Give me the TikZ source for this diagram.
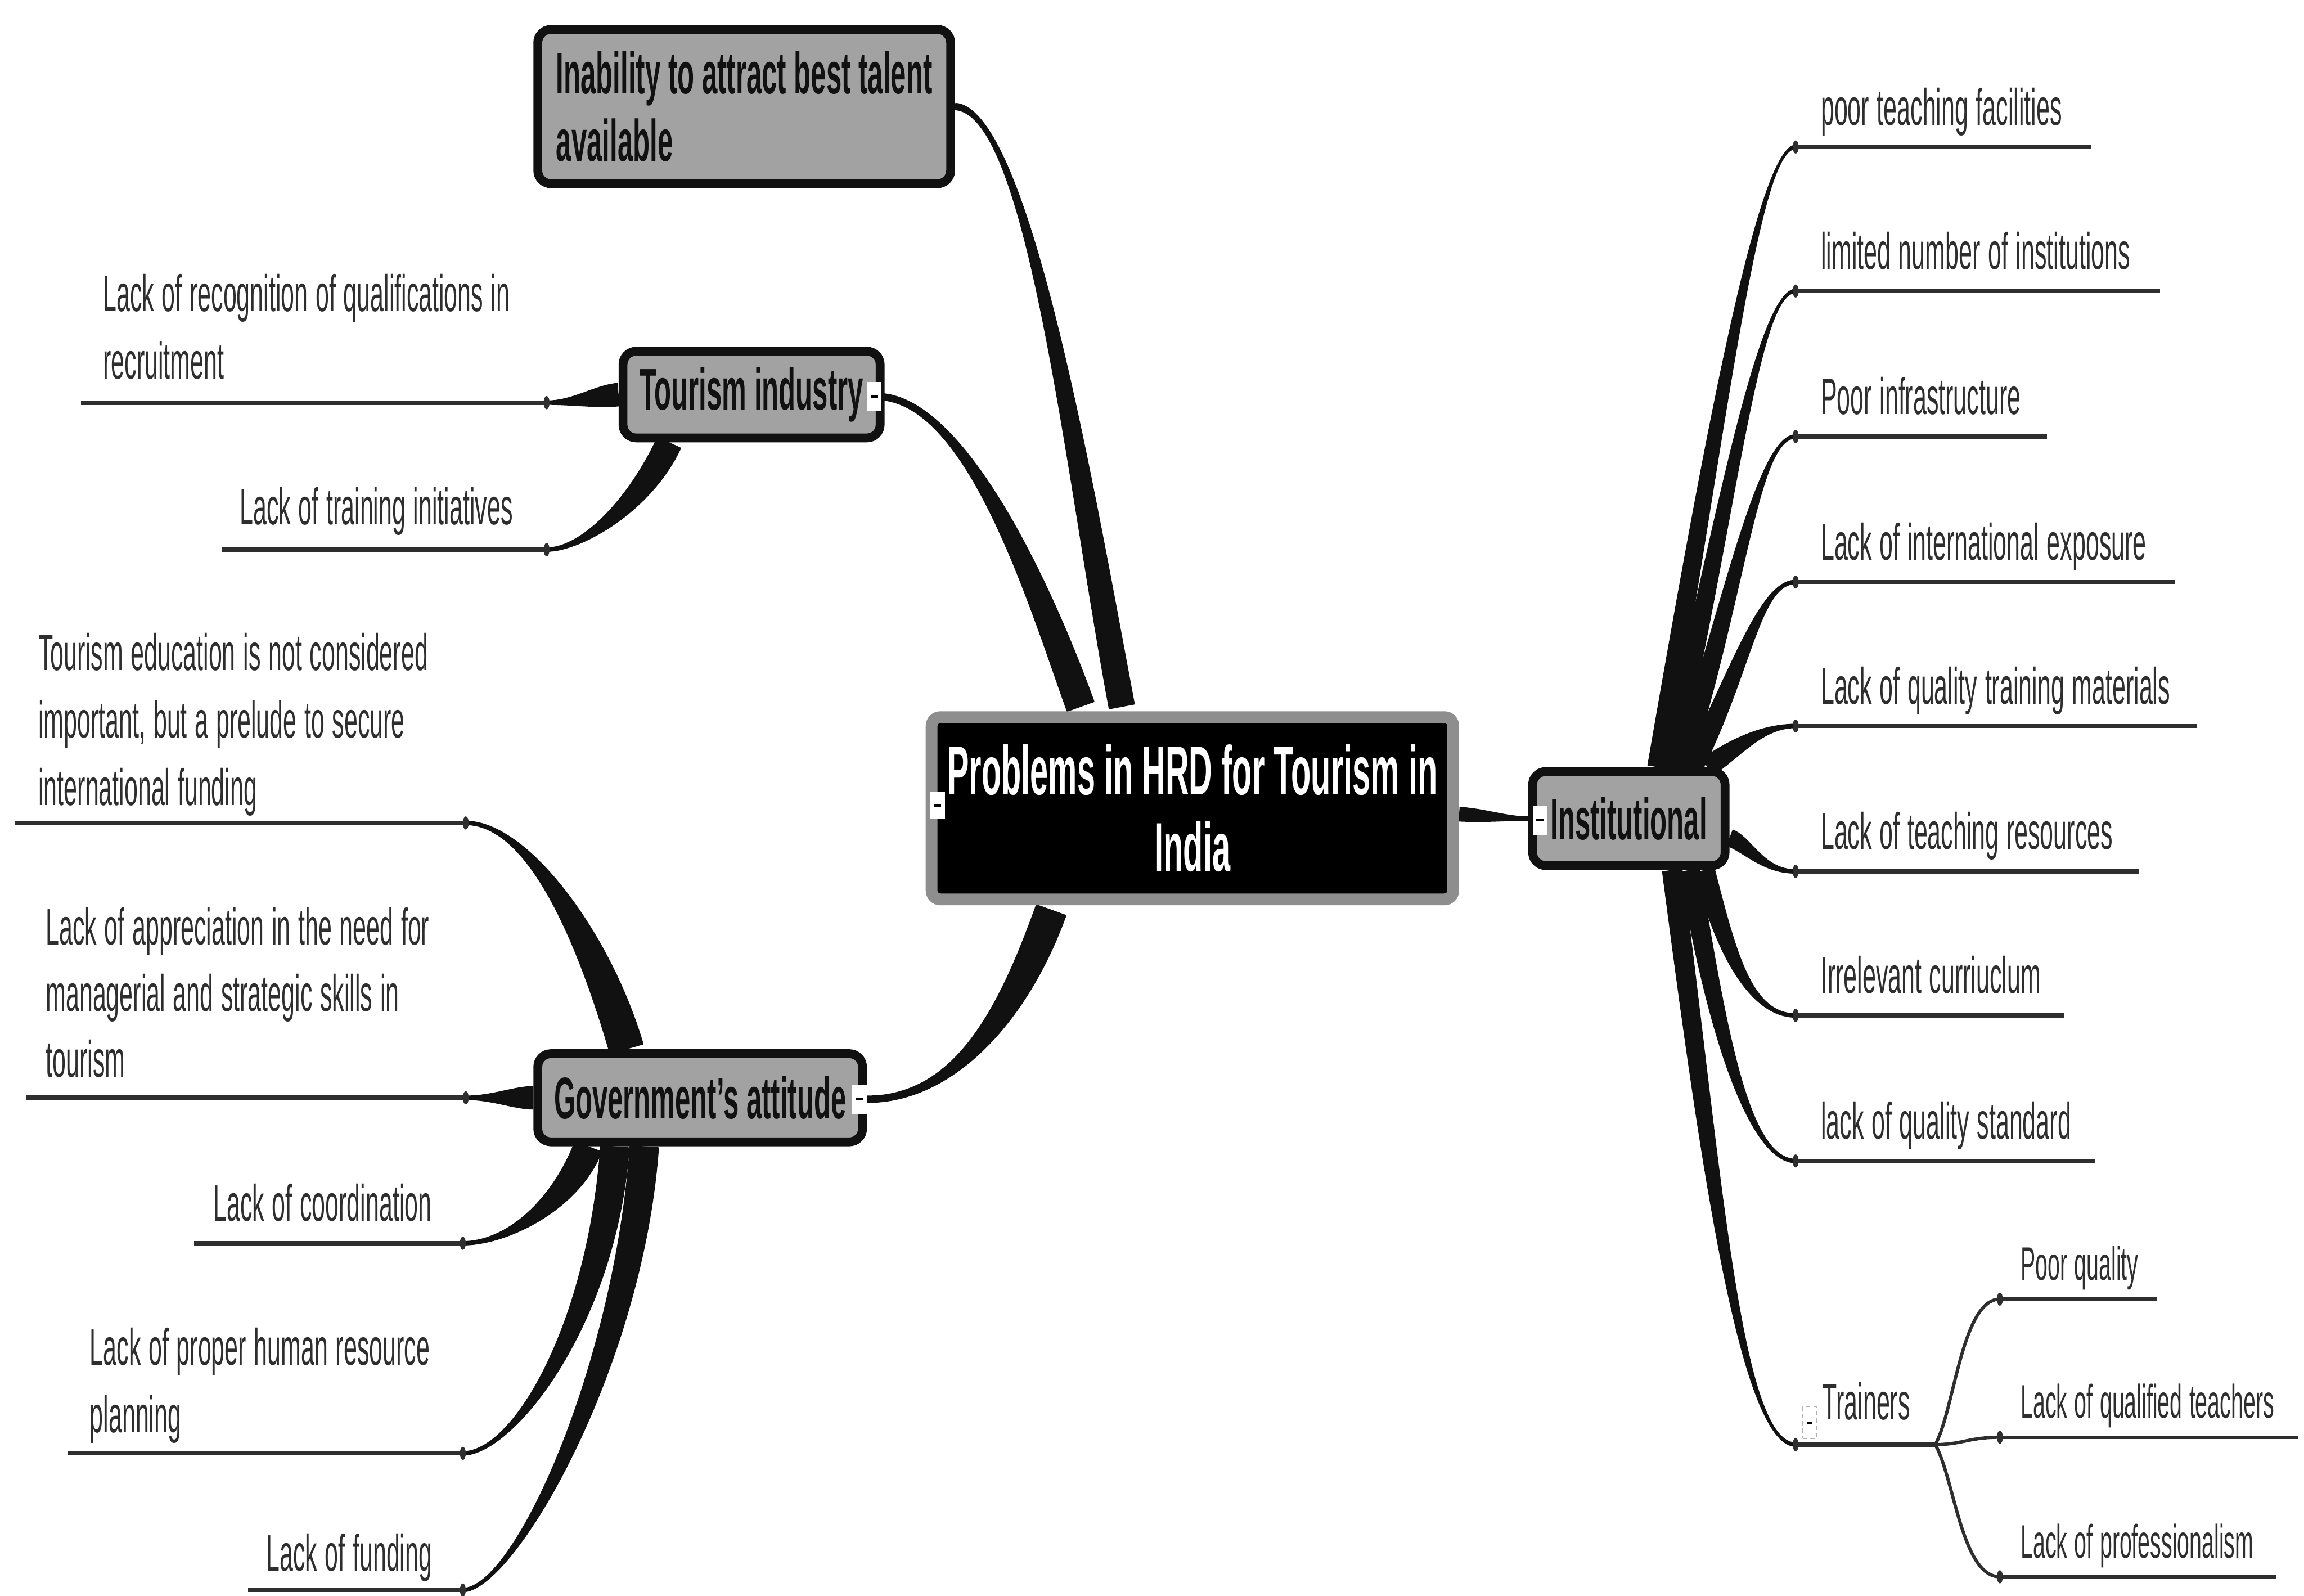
\documentclass[tikz,border=0pt]{standalone}
\usepackage{fontspec}
\setmainfont{Liberation Sans}[FakeStretch=0.47]
\usetikzlibrary{calc}
\pgfdeclarelayer{back}
\pgfdeclarelayer{links}
\pgfsetlayers{back,links,main}

\definecolor{ink}{HTML}{111111}
\definecolor{leafink}{HTML}{2E2E2E}
\definecolor{topicgray}{HTML}{A2A2A2}
\definecolor{rootrim}{HTML}{8E8E8E}

% tapered mind-map branch: start, control 1, control 2, end, half width at start, half width at end
\newcommand\branchcurve[6]{%
  \path #1 coordinate (bc0) #2 coordinate (bc1) #3 coordinate (bc2) #4 coordinate (bc3);
  \fill[ink] ($(bc0)!#5!90:(bc1)$) .. controls ($(bc1)!#5!-90:(bc0)$) and ($(bc2)!#6!90:(bc3)$) .. ($(bc3)!#6!-90:(bc2)$)
    -- ($(bc3)!#6!90:(bc2)$) .. controls ($(bc2)!#6!-90:(bc3)$) and ($(bc1)!#5!90:(bc0)$) .. ($(bc0)!#5!-90:(bc1)$) -- cycle;
}

\tikzset{
  topic/.style={draw=ink, line width=6pt, fill=topicgray, rounded corners=9pt, inner sep=0pt,
    font=\fontsize{40}{46}\selectfont\bfseries, text=ink, align=left},
  root/.style={draw=rootrim, line width=8pt, fill=black, rounded corners=6pt, inner sep=0pt,
    font=\fontsize{47}{52}\selectfont\bfseries, text=white, align=center},
  leaf/.style={anchor=base west, inner sep=0pt, text=leafink, font=\fontsize{35}{46}\selectfont,
    text width=420pt, execute at begin node={\spaceskip=0.15em plus 0.05em minus 0.03em\relax}},
  subleaf/.style={leaf, font=\fontsize{32}{40}\selectfont},
  leafline/.style={draw=leafink, line width=3pt},
  twig/.style={draw=leafink, line width=2.2pt},
  collbox/.style={fill=white, draw=none, inner sep=0pt, minimum width=10pt, minimum height=20pt},
  joint/.style={fill=leafink}
}

\begin{document}
\begin{tikzpicture}[x=1pt, y=-1pt]
\begin{pgfonlayer}{back}
  \fill[white] (0,0) rectangle (1568,1086);
\end{pgfonlayer}
\useasboundingbox (0,0) rectangle (1568,1086);

% ---------- main topics ----------
\node[root, minimum width=355pt, minimum height=124pt] (ctr) at (811.5,550) {Problems in HRD for Tourism in\\India};
\node[topic, minimum width=281pt, minimum height=105pt] (inab) at (506.5,72.5) {Inability to attract best talent\\available};
\node[topic, minimum width=175pt, minimum height=59pt] (tour) at (511.5,268.5) {Tourism industry};
\node[topic, minimum width=221pt, minimum height=60pt] (gov) at (476.5,747) {Government's attitude};
\node[topic, minimum width=131pt, minimum height=64pt] (inst) at (1108.5,557) {Institutional};

% collapse markers
\node[collbox, minimum height=19pt] (ctrc) at (638,548) {\rule{5pt}{1.6pt}};
\node[collbox] (tourc) at (595,270) {\rule{5pt}{1.6pt}};
\node[collbox] (govc) at (585,748) {\rule{5pt}{1.6pt}};
\node[collbox] (instc) at (1048,558) {\rule{5pt}{1.6pt}};

% ---------- leaves of Tourism industry ----------
\node[leaf] (recog) at (70,212) {Lack of recognition of qualifications in\\recruitment};
\node[leaf] (train) at (163,357) {Lack of training initiatives};
\coordinate (recogA) at (55,274);   \coordinate (recogB) at (372,274);
\coordinate (trainA) at (151,374);  \coordinate (trainB) at (372,374);

% ---------- leaves of Government's attitude ----------
\node[leaf] (tedu) at (26,456) {Tourism education is not considered\\important, but a prelude to secure\\international funding};
\node[leaf, font=\fontsize{35}{45}\selectfont] (appr) at (31,643) {Lack of appreciation in the need for\\managerial and strategic skills in\\tourism};
\node[leaf] (coord) at (145,831) {Lack of coordination};
\node[leaf] (hrp) at (61,929) {Lack of proper human resource\\planning};
\node[leaf] (fund) at (181,1069) {Lack of funding};
\coordinate (teduA) at (10,560);   \coordinate (teduB) at (317,560);
\coordinate (apprA) at (18,747);   \coordinate (apprB) at (317,747);
\coordinate (coordA) at (132,846); \coordinate (coordB) at (315,846);
\coordinate (hrpA) at (46,989);    \coordinate (hrpB) at (315,989);
\coordinate (fundA) at (169,1082); \coordinate (fundB) at (315,1082);

% ---------- leaves of Institutional ----------
\node[leaf] (i1) at (1239,85)  {poor teaching facilities};
\node[leaf] (i2) at (1239,183) {limited number of institutions};
\node[leaf] (i3) at (1239,282) {Poor infrastructure};
\node[leaf] (i4) at (1239,381) {Lack of international exposure};
\node[leaf] (i5) at (1239,479) {Lack of quality training materials};
\node[leaf] (i6) at (1239,578) {Lack of teaching resources};
\node[leaf] (i7) at (1239,676) {Irrelevant curriuclum};
\node[leaf] (i8) at (1239,775) {lack of quality standard};
\node[leaf] (i9) at (1240,966) {Trainers};
\coordinate (i1A) at (1222,100); \coordinate (i1B) at (1423,100);
\coordinate (i2A) at (1222,198); \coordinate (i2B) at (1470,198);
\coordinate (i3A) at (1222,297); \coordinate (i3B) at (1393,297);
\coordinate (i4A) at (1222,396); \coordinate (i4B) at (1480,396);
\coordinate (i5A) at (1222,494); \coordinate (i5B) at (1495,494);
\coordinate (i6A) at (1222,593); \coordinate (i6B) at (1456,593);
\coordinate (i7A) at (1222,691); \coordinate (i7B) at (1405,691);
\coordinate (i8A) at (1222,790); \coordinate (i8B) at (1426,790);
\coordinate (i9A) at (1222,983); \coordinate (i9B) at (1317,983);
\node[draw=gray!60, densely dashed, line width=0.8pt, fill=white, inner sep=0pt,
      minimum width=9pt, minimum height=22pt] (i9c) at (1231.5,968) {\rule{4pt}{1.4pt}};

% ---------- leaves of Trainers ----------
\node[subleaf] (t1) at (1375,871)  {Poor quality};
\node[subleaf] (t2) at (1375,965)  {Lack of qualified teachers};
\node[subleaf] (t3) at (1375,1060) {Lack of professionalism};
\coordinate (t1A) at (1361,884);  \coordinate (t1B) at (1468,884);
\coordinate (t2A) at (1361,978);  \coordinate (t2B) at (1564,978);
\coordinate (t3A) at (1361,1073); \coordinate (t3B) at (1549,1073);

% ---------- underlines ----------
\foreach \n in {recog,train,tedu,appr,coord,hrp,fund,i1,i2,i3,i4,i5,i6,i7,i8,i9}
  \draw[leafline] (\n A) -- (\n B);
\foreach \n in {t1,t2,t3}
  \draw[twig] (\n A) -- (\n B);
\foreach \n in {recogB,trainB,teduB,apprB,coordB,hrpB,fundB}
  \fill[joint] (\n) ellipse (2pt and 4.5pt);
\foreach \n in {i1A,i2A,i3A,i4A,i5A,i6A,i7A,i8A,i9A,t1A,t2A,t3A}
  \fill[joint] (\n) ellipse (2pt and 4.5pt);

% ---------- connectors ----------
\begin{pgfonlayer}{links}
  % root to main topics
  \branchcurve{($(ctr.north)+(-48,-3)$)}{(735,330)}{(700,75)}{(inab.east)}{9pt}{2.5pt}
  \branchcurve{($(ctr.north)+(-76,-3)$)}{(710,410)}{(660,275)}{(tourc.east)}{10pt}{2.5pt}
  \branchcurve{($(ctr.south)+(-96,3)$)}{(690,690)}{(650,748)}{(govc.east)}{11pt}{2.5pt}
  \branchcurve{($(ctr.east)+(0,4)$)}{(1010,555)}{(1025,557)}{(inst.west)}{5pt}{1.5pt}

  % Tourism industry
  \branchcurve{(tour.west)}{(405,270)}{(390,274)}{(recogB)}{8pt}{1.5pt}
  \branchcurve{($(tour.south)+(-56,0)$)}{(435,345)}{(395,374)}{(trainB)}{9pt}{1.5pt}

  % Government's attitude
  \branchcurve{($(gov.north)+(-50,0)$)}{(405,640)}{(360,560)}{(teduB)}{12pt}{1.5pt}
  \branchcurve{(gov.west)}{(350,747)}{(335,747)}{(apprB)}{8pt}{1.5pt}
  \branchcurve{($(gov.south)+(-76,0)$)}{(385,820)}{(345,846)}{(coordB)}{10pt}{1.5pt}
  \branchcurve{($(gov.south)+(-58,0)$)}{(410,900)}{(350,989)}{(hrpB)}{10pt}{1.5pt}
  \branchcurve{($(gov.south)+(-38,0)$)}{(428,930)}{(350,1082)}{(fundB)}{10pt}{1.5pt}

  % Institutional
  \branchcurve{($(inst.north)+(19.5,0)$)}{(1168,291)}{(1197,100)}{(i1A)}{7pt}{1.5pt}
  \branchcurve{($(inst.north)+(27.5,0)$)}{(1176,345)}{(1197,198)}{(i2A)}{7pt}{1.5pt}
  \branchcurve{($(inst.north)+(35.5,0)$)}{(1182,400)}{(1197,297)}{(i3A)}{7pt}{1.5pt}
  \branchcurve{($(inst.north)+(43.5,0)$)}{(1186,454)}{(1198,396)}{(i4A)}{7pt}{1.5pt}
  \branchcurve{($(inst.north)+(53.5,0)$)}{(1182,508)}{(1200,494)}{(i5A)}{7pt}{1.5pt}
  \branchcurve{($(inst.east)+(0,13)$)}{(1190,575)}{(1200,593)}{(i6A)}{6pt}{1.5pt}
  \branchcurve{($(inst.south)+(51.5,0)$)}{(1175,650)}{(1192,691)}{(i7A)}{7pt}{1.5pt}
  \branchcurve{($(inst.south)+(41.5,0)$)}{(1168,700)}{(1190,790)}{(i8A)}{7pt}{1.5pt}
  \branchcurve{($(inst.south)+(29.5,0)$)}{(1165,800)}{(1185,983)}{(i9A)}{7pt}{1.5pt}
\end{pgfonlayer}

% Trainers to its leaves
\draw[twig] (i9B) .. controls (1330,960) and (1335,884) .. (t1A);
\draw[twig] (i9B) .. controls (1335,983) and (1340,978) .. (t2A);
\draw[twig] (i9B) .. controls (1330,1006) and (1335,1073) .. (t3A);
\end{tikzpicture}
\end{document}
